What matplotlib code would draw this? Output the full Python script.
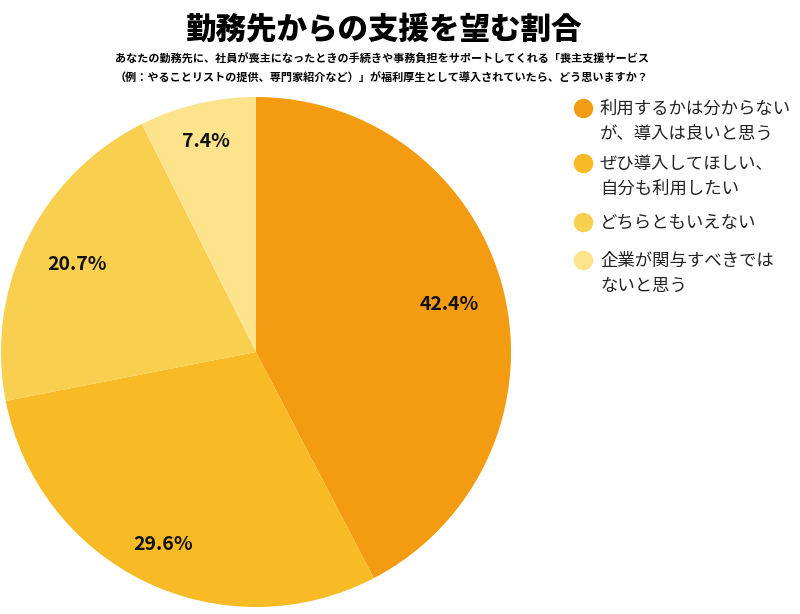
import numpy as np
import matplotlib.pyplot as plt

plt.rcParams['font.family'] = ['Noto Sans CJK JP', 'DejaVu Sans']

# data
labels = ['利用するかは分からない\nが、導入は良いと思う',
          'ぜひ導入してほしい、\n自分も利用したい',
          'どちらともいえない',
          '企業が関与すべきでは\nないと思う']
values = [42.4, 29.6, 20.7, 7.4]
colors = ['#F39C12', '#F8BB26', '#F9CF50', '#FCE38C']

title = '勤務先からの支援を望む割合'
subtitle = ('あなたの勤務先に、社員が喪主になったときの手続きや事務負担をサポートしてくれる「喪主支援サービス\n'
            '（例：やることリストの提供、専門家紹介など）」が福利厚生として導入されていたら、どう思いますか？')

fig = plt.figure(figsize=(8, 6.14), dpi=100)

# pie axes: centre ~ (256, 352) px, radius ~255 px
ax = fig.add_axes([1 / 800, 7 / 614, 510 / 800, 510 / 614])
wedges, texts, autotexts = ax.pie(values, colors=colors, startangle=90, counterclock=False,
                                  autopct='%.1f%%', radius=1,
                                  wedgeprops=dict(linewidth=0))
# label distance from centre, per wedge
label_r = [0.78, 0.84, 0.78, 0.85]
for w, t, r in zip(wedges, autotexts, label_r):
    ang = np.deg2rad((w.theta1 + w.theta2) / 2)
    t.set_position((r * np.cos(ang), r * np.sin(ang)))
    t.set_fontsize(14)
    t.set_fontweight('bold')
    t.set_color('#111111')
ax.set_xlim(-1, 1)
ax.set_ylim(-1, 1)
ax.set_aspect('equal')
ax.axis('off')

fig.text(383 / 800, 1 - 30 / 614, title, ha='center', va='center',
         fontsize=22, fontweight='heavy')
fig.text(382 / 800, 1 - 69 / 614, subtitle, ha='center', va='center',
         fontsize=8, fontweight='bold', linespacing=1.6)

# legend: circle aligned with first line of each label
leg_y = [108, 163, 222, 260]
for lab, c, y in zip(labels, colors, leg_y):
    yf = 1 - y / 614
    fig.add_artist(plt.Line2D([583 / 800], [yf], marker='o', markersize=13,
                              color=c, linestyle='none', transform=fig.transFigure))
    fig.text(600 / 800, yf + 8 / 614, lab, ha='left', va='top', fontsize=12.5,
             linespacing=1.5, color='#222222')

fig.savefig('out.png', dpi=100)
